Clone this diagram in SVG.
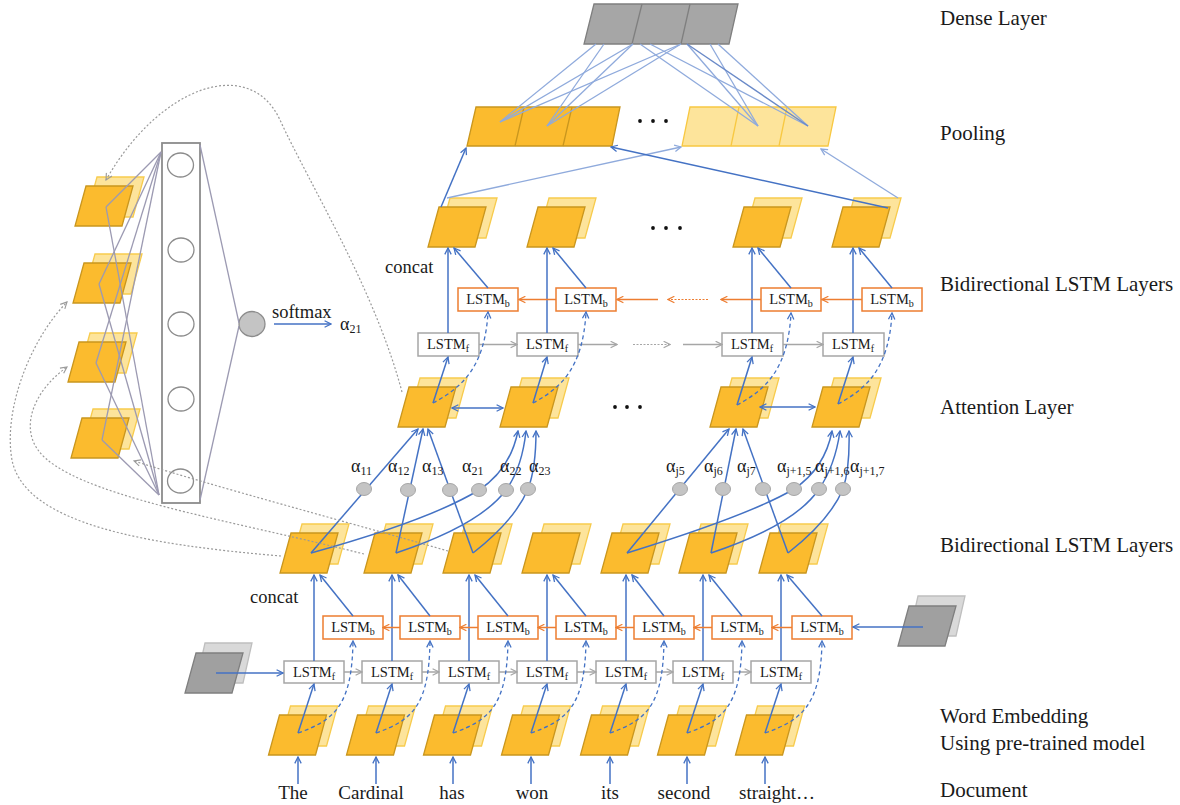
<svg xmlns="http://www.w3.org/2000/svg" width="1180" height="805" viewBox="0 0 1180 805">
<style>
.t{font-family:"Liberation Serif","Times New Roman",serif;fill:#1a1a1a}
.lbl{font-size:21px}
.lt{font-size:14.5px;text-anchor:middle}
.sub{font-size:10px}
.al{font-size:18px}
.als{font-size:12px}
.fo{fill:#FBBB2E;stroke:#C9961E;stroke-width:1.3}
.bo{fill:#FDE49B;stroke:#F7CB4D;stroke-width:1.3}
.fg{fill:#A0A0A0;stroke:#7F7F7F;stroke-width:1.3}
.bg{fill:#D9D9D9;stroke:#BFBFBF;stroke-width:1.3}
.bf{fill:#fff;stroke:#A6A6A6;stroke-width:1.5}
.bb{fill:#fff;stroke:#ED7D31;stroke-width:1.5}
.ln{fill:none;stroke:#4472C4;stroke-width:1.5}
.lnd{fill:none;stroke:#4472C4;stroke-width:1.3;stroke-dasharray:4 3}
.lt2{fill:none;stroke:#8FAADC;stroke-width:1.3}
.gr{fill:none;stroke:#A6A6A6;stroke-width:1.5}
.or{fill:none;stroke:#ED7D31;stroke-width:1.5}
.dot{fill:none;stroke:#9A9A9A;stroke-width:1.2;stroke-dasharray:2 2}
.pl{fill:none;stroke:#9C9AB2;stroke-width:1.3}
.ac{fill:#C4C4C4;stroke:#A6A6A6;stroke-width:1}
</style>
<defs>
<marker id="mb" viewBox="0 0 10 10" refX="9" refY="5" markerWidth="8" markerHeight="8" markerUnits="userSpaceOnUse" orient="auto-start-reverse"><path d="M1,1 L9,5 L1,9" fill="none" stroke="#4472C4" stroke-width="1.6"/></marker>
<marker id="ml" viewBox="0 0 10 10" refX="9" refY="5" markerWidth="8" markerHeight="8" markerUnits="userSpaceOnUse" orient="auto"><path d="M1,1 L9,5 L1,9" fill="none" stroke="#8FAADC" stroke-width="1.6"/></marker>
<marker id="mg" viewBox="0 0 10 10" refX="9" refY="5" markerWidth="8" markerHeight="8" markerUnits="userSpaceOnUse" orient="auto"><path d="M1,1 L9,5 L1,9" fill="none" stroke="#A6A6A6" stroke-width="1.6"/></marker>
<marker id="mo" viewBox="0 0 10 10" refX="9" refY="5" markerWidth="8" markerHeight="8" markerUnits="userSpaceOnUse" orient="auto"><path d="M1,1 L9,5 L1,9" fill="none" stroke="#ED7D31" stroke-width="1.6"/></marker>
<marker id="md" viewBox="0 0 10 10" refX="9" refY="5" markerWidth="8" markerHeight="8" markerUnits="userSpaceOnUse" orient="auto"><path d="M1,1 L9,5 L1,9" fill="none" stroke="#9A9A9A" stroke-width="1.4"/></marker>
<g id="ppo"><polygon class="bo" points="22,-9 69,-9 58,31 11,31"/><polygon class="fo" points="11,0 58,0 47,40 0,40"/></g>
<g id="ppg"><polygon class="bg" points="20,-10 67,-10 58,30 11,30"/><polygon class="fg" points="11,0 58,0 47,40 0,40"/></g>
</defs>
<rect width="1180" height="805" fill="#fff"/>

<!-- right labels -->
<g id="labels">
<text class="t lbl" x="940" y="25">Dense Layer</text>
<text class="t lbl" x="940" y="140">Pooling</text>
<text class="t lbl" x="940" y="291">Bidirectional LSTM Layers</text>
<text class="t lbl" x="940" y="414">Attention Layer</text>
<text class="t lbl" x="940" y="552">Bidirectional LSTM Layers</text>
<text class="t lbl" x="940" y="723">Word Embedding</text>
<text class="t lbl" x="940" y="750">Using pre-trained model</text>
<text class="t lbl" x="940" y="797">Document</text>
</g>

<!-- dense & pooling -->
<g id="dense">
<polygon points="594,4 738,4 729,44 584,44" fill="#A6A6A6" stroke="#7F7F7F" stroke-width="1.3"/>
<line x1="642" y1="4" x2="632" y2="44" stroke="#7F7F7F" stroke-width="1.3"/>
<line x1="690" y1="4" x2="681" y2="44" stroke="#7F7F7F" stroke-width="1.3"/>
</g>
<g id="pool-left">
<polygon class="fo" points="476,107 620,107 612,146 467,146"/>
<line x1="524" y1="107" x2="515" y2="146" stroke="#C9961E" stroke-width="1.3"/>
<line x1="572" y1="107" x2="563" y2="146" stroke="#C9961E" stroke-width="1.3"/>
</g>
<g id="pool-right">
<polygon points="690,107 836,107 828,146 682,146" fill="#FDE49B" stroke="#F8C842" stroke-width="1.3"/>
<line x1="739" y1="107" x2="731" y2="146" stroke="#F8C842" stroke-width="1.3"/>
<line x1="787" y1="107" x2="779" y2="146" stroke="#F8C842" stroke-width="1.3"/>
</g>
<g id="ellipses" fill="#111">
<circle cx="640" cy="121" r="1.9"/><circle cx="653" cy="121" r="1.9"/><circle cx="666" cy="121" r="1.9"/>
<circle cx="653" cy="228" r="1.9"/><circle cx="666" cy="228" r="1.9"/><circle cx="680" cy="228" r="1.9"/>
<circle cx="615" cy="407" r="1.9"/><circle cx="627" cy="407" r="1.9"/><circle cx="640" cy="407" r="1.9"/>
</g>

<!-- upper concat nodes -->
<g id="uc1"><use href="#ppo" x="428" y="207"/></g>
<g id="uc2"><use href="#ppo" x="527" y="207"/></g>
<g id="uc3"><use href="#ppo" x="733" y="207"/></g>
<g id="uc4"><use href="#ppo" x="832" y="207"/></g>
<text class="t" x="385" y="273" font-size="18.5">concat</text>

<!-- upper LSTM boxes -->
<g id="ub1"><rect class="bb" x="458" y="288" width="60" height="23"/><text class="t lt" x="488" y="304">LSTM<tspan class="sub" dy="3">b</tspan></text></g>
<g id="ub2"><rect class="bb" x="556" y="288" width="60" height="23"/><text class="t lt" x="586" y="304">LSTM<tspan class="sub" dy="3">b</tspan></text></g>
<g id="ub3"><rect class="bb" x="761" y="288" width="60" height="23"/><text class="t lt" x="791" y="304">LSTM<tspan class="sub" dy="3">b</tspan></text></g>
<g id="ub4"><rect class="bb" x="862" y="288" width="60" height="23"/><text class="t lt" x="892" y="304">LSTM<tspan class="sub" dy="3">b</tspan></text></g>
<g id="uf1"><rect class="bf" x="418" y="333" width="61" height="23"/><text class="t lt" x="448" y="349">LSTM<tspan class="sub" dy="3">f</tspan></text></g>
<g id="uf2"><rect class="bf" x="517" y="333" width="61" height="23"/><text class="t lt" x="547" y="349">LSTM<tspan class="sub" dy="3">f</tspan></text></g>
<g id="uf3"><rect class="bf" x="722" y="333" width="61" height="23"/><text class="t lt" x="752" y="349">LSTM<tspan class="sub" dy="3">f</tspan></text></g>
<g id="uf4"><rect class="bf" x="823" y="333" width="61" height="23"/><text class="t lt" x="853" y="349">LSTM<tspan class="sub" dy="3">f</tspan></text></g>

<!-- attention nodes -->
<g id="att1"><use href="#ppo" x="398" y="387"/></g>
<g id="att2"><use href="#ppo" x="500" y="387"/></g>
<g id="att3"><use href="#ppo" x="710" y="387"/></g>
<g id="att4"><use href="#ppo" x="812" y="387"/></g>

<!-- lower concat nodes -->
<g id="lc1"><use href="#ppo" x="280" y="533"/></g>
<g id="lc2"><use href="#ppo" x="364" y="533"/></g>
<g id="lc3"><use href="#ppo" x="443" y="533"/></g>
<g id="lc4"><use href="#ppo" x="522" y="533"/></g>
<g id="lc5"><use href="#ppo" x="601" y="533"/></g>
<g id="lc6"><use href="#ppo" x="679" y="533"/></g>
<g id="lc7"><use href="#ppo" x="759" y="533"/></g>
<text class="t" x="250" y="603" font-size="18.5">concat</text>

<!-- lower LSTM boxes -->
<g id="lb1"><rect class="bb" x="323" y="616" width="60" height="23"/><text class="t lt" x="353" y="632">LSTM<tspan class="sub" dy="3">b</tspan></text></g>
<g id="lb2"><rect class="bb" x="400" y="616" width="60" height="23"/><text class="t lt" x="430" y="632">LSTM<tspan class="sub" dy="3">b</tspan></text></g>
<g id="lb3"><rect class="bb" x="478" y="616" width="60" height="23"/><text class="t lt" x="508" y="632">LSTM<tspan class="sub" dy="3">b</tspan></text></g>
<g id="lb4"><rect class="bb" x="556" y="616" width="60" height="23"/><text class="t lt" x="586" y="632">LSTM<tspan class="sub" dy="3">b</tspan></text></g>
<g id="lb5"><rect class="bb" x="634" y="616" width="60" height="23"/><text class="t lt" x="664" y="632">LSTM<tspan class="sub" dy="3">b</tspan></text></g>
<g id="lb6"><rect class="bb" x="712" y="616" width="60" height="23"/><text class="t lt" x="742" y="632">LSTM<tspan class="sub" dy="3">b</tspan></text></g>
<g id="lb7"><rect class="bb" x="792" y="616" width="60" height="23"/><text class="t lt" x="822" y="632">LSTM<tspan class="sub" dy="3">b</tspan></text></g>
<g id="lf1"><rect class="bf" x="284" y="661" width="60" height="22"/><text class="t lt" x="314" y="677">LSTM<tspan class="sub" dy="3">f</tspan></text></g>
<g id="lf2"><rect class="bf" x="362" y="661" width="60" height="22"/><text class="t lt" x="392" y="677">LSTM<tspan class="sub" dy="3">f</tspan></text></g>
<g id="lf3"><rect class="bf" x="439" y="661" width="60" height="22"/><text class="t lt" x="469" y="677">LSTM<tspan class="sub" dy="3">f</tspan></text></g>
<g id="lf4"><rect class="bf" x="517" y="661" width="60" height="22"/><text class="t lt" x="547" y="677">LSTM<tspan class="sub" dy="3">f</tspan></text></g>
<g id="lf5"><rect class="bf" x="596" y="661" width="60" height="22"/><text class="t lt" x="626" y="677">LSTM<tspan class="sub" dy="3">f</tspan></text></g>
<g id="lf6"><rect class="bf" x="673" y="661" width="60" height="22"/><text class="t lt" x="703" y="677">LSTM<tspan class="sub" dy="3">f</tspan></text></g>
<g id="lf7"><rect class="bf" x="751" y="661" width="60" height="22"/><text class="t lt" x="781" y="677">LSTM<tspan class="sub" dy="3">f</tspan></text></g>

<!-- inputs -->
<g id="in-left"><use href="#ppg" x="185" y="653"/></g>
<g id="in-right"><use href="#ppg" x="898" y="606"/></g>

<!-- embeddings -->
<g id="e1"><use href="#ppo" x="268.5" y="715"/></g>
<g id="e2"><use href="#ppo" x="346.5" y="715"/></g>
<g id="e3"><use href="#ppo" x="423.5" y="715"/></g>
<g id="e4"><use href="#ppo" x="501.5" y="715"/></g>
<g id="e5"><use href="#ppo" x="580.5" y="715"/></g>
<g id="e6"><use href="#ppo" x="657.5" y="715"/></g>
<g id="e7"><use href="#ppo" x="735.5" y="715"/></g>

<!-- words -->
<g id="words" font-size="19" text-anchor="middle">
<text class="t" x="293" y="799">The</text>
<text class="t" x="371" y="799">Cardinal</text>
<text class="t" x="452" y="799">has</text>
<text class="t" x="532" y="799">won</text>
<text class="t" x="610" y="799">its</text>
<text class="t" x="684" y="799">second</text>
<text class="t" x="777" y="799">straight…</text>
</g>

<!-- left attention panel -->
<g id="p1"><use href="#ppo" x="75" y="186"/></g>
<g id="p2"><use href="#ppo" x="73" y="263"/></g>
<g id="p3"><use href="#ppo" x="68" y="342"/></g>
<g id="p4"><use href="#ppo" x="71" y="418"/></g>
<g id="panel-rect">
<rect x="162" y="143" width="38" height="360" fill="none" stroke="#8C8C8C" stroke-width="1.8"/>
<ellipse cx="180.5" cy="165" rx="13" ry="12" fill="#fff" stroke="#8C8C8C" stroke-width="1.3"/>
<ellipse cx="181" cy="250" rx="13" ry="12" fill="#fff" stroke="#8C8C8C" stroke-width="1.3"/>
<ellipse cx="181" cy="324" rx="13" ry="12" fill="#fff" stroke="#8C8C8C" stroke-width="1.3"/>
<ellipse cx="181" cy="399" rx="13" ry="12" fill="#fff" stroke="#8C8C8C" stroke-width="1.3"/>
<ellipse cx="180.5" cy="481" rx="13" ry="12" fill="#fff" stroke="#8C8C8C" stroke-width="1.3"/>
</g>
<g id="softmax-node">
<ellipse cx="252" cy="324" rx="13" ry="12.5" fill="#C4C4C4" stroke="#8C8C8C" stroke-width="1.3"/>
<text class="t" x="272" y="318" font-size="18.5">softmax</text>
<text class="t al" x="340" y="330">α<tspan class="als" dy="3">21</tspan></text>
</g>

<!-- connectors -->
<g id="connectors">
<g class="lt2">
<line x1="596" y1="44" x2="500" y2="122"/>
<line x1="604" y1="44" x2="547" y2="126"/>
<line x1="633" y1="44" x2="500" y2="122"/>
<line x1="633" y1="44" x2="547" y2="126"/>
<line x1="640" y1="44" x2="758" y2="126"/>
<line x1="650" y1="44" x2="808" y2="126"/>
<line x1="681" y1="44" x2="500" y2="122"/>
<line x1="681" y1="44" x2="547" y2="126"/>
<line x1="687" y1="44" x2="758" y2="126"/>
<line x1="710" y1="44" x2="758" y2="126"/>
<line x1="718" y1="44" x2="808" y2="126"/>
</g>
<line x1="687" y1="44" x2="808" y2="126" stroke="#6A8AC8" stroke-width="1.4"/>
<line class="ln" x1="441" y1="207" x2="466" y2="148" marker-end="url(#mb)"/>
<line class="lt2" x1="447" y1="198" x2="681" y2="147" marker-end="url(#ml)"/>
<line class="ln" x1="888" y1="208" x2="611" y2="147" marker-end="url(#mb)"/>
<line class="lt2" x1="898" y1="198" x2="821" y2="149" marker-end="url(#ml)"/>

<g class="ln">
<line x1="448" y1="333" x2="448" y2="248" marker-end="url(#mb)"/>
<line x1="547" y1="333" x2="547" y2="248" marker-end="url(#mb)"/>
<line x1="752" y1="333" x2="752" y2="248" marker-end="url(#mb)"/>
<line x1="853" y1="333" x2="853" y2="248" marker-end="url(#mb)"/>
<line x1="488" y1="288" x2="454" y2="248" marker-end="url(#mb)"/>
<line x1="586" y1="288" x2="553" y2="248" marker-end="url(#mb)"/>
<line x1="791" y1="288" x2="758" y2="248" marker-end="url(#mb)"/>
<line x1="892" y1="288" x2="859" y2="248" marker-end="url(#mb)"/>
</g>
<g class="gr">
<line x1="479" y1="344.5" x2="517" y2="344.5" marker-end="url(#mg)"/>
<line x1="578" y1="344.5" x2="617" y2="344.5" marker-end="url(#mg)"/>
<line x1="633" y1="344.5" x2="670" y2="344.5" stroke-dasharray="2 1.5" stroke-width="1.2" marker-end="url(#mg)"/>
<line x1="683" y1="344.5" x2="722" y2="344.5" marker-end="url(#mg)"/>
<line x1="783" y1="344.5" x2="823" y2="344.5" marker-end="url(#mg)"/>
</g>
<g class="or">
<line x1="556" y1="299.5" x2="519" y2="299.5" marker-end="url(#mo)"/>
<line x1="658" y1="299.5" x2="617" y2="299.5" marker-end="url(#mo)"/>
<line x1="708" y1="299.5" x2="668" y2="299.5" stroke-dasharray="2 1.5" stroke-width="1.2" marker-end="url(#mo)"/>
<line x1="761" y1="299.5" x2="721" y2="299.5" marker-end="url(#mo)"/>
<line x1="862" y1="299.5" x2="822" y2="299.5" marker-end="url(#mo)"/>
</g>
<g class="ln">
<line x1="433" y1="403" x2="448" y2="357" marker-end="url(#mb)"/>
<line x1="533" y1="403" x2="547" y2="357" marker-end="url(#mb)"/>
<line x1="737" y1="405" x2="752" y2="357" marker-end="url(#mb)"/>
<line x1="838" y1="404" x2="853" y2="357" marker-end="url(#mb)"/>
<line x1="452" y1="408" x2="503" y2="408" marker-start="url(#mb)" marker-end="url(#mb)"/>
<line x1="760" y1="407" x2="815" y2="407" marker-start="url(#mb)" marker-end="url(#mb)"/>
</g>
<g class="lnd">
<path d="M433,403 C461,388 485,368 488,312" marker-end="url(#mb)"/>
<path d="M533,403 C561,388 583,368 586,312" marker-end="url(#mb)"/>
<path d="M737,405 C765,390 788,370 791,313" marker-end="url(#mb)"/>
<path d="M838,404 C866,389 889,369 892,313" marker-end="url(#mb)"/>
</g>
<g class="ln">
<path d="M311,553 L418,429" marker-end="url(#mb)"/>
<path d="M396,553 L423,429" marker-end="url(#mb)"/>
<path d="M473,553 L428,429" marker-end="url(#mb)"/>
<path d="M311,553 Q430,520 479,490 Q510,470 518,431" marker-end="url(#mb)"/>
<path d="M396,553 Q480,525 506,490 Q522,468 526,431" marker-end="url(#mb)"/>
<path d="M473,553 Q515,520 528,489 Q536,468 536,431" marker-end="url(#mb)"/>
<path d="M627,553 L729,429" marker-end="url(#mb)"/>
<path d="M711,553 L736,429" marker-end="url(#mb)"/>
<path d="M788,553 L743,429" marker-end="url(#mb)"/>
<path d="M627,553 Q750,515 794,489 Q825,468 832,431" marker-end="url(#mb)"/>
<path d="M711,553 Q795,525 819,489 Q835,466 840,431" marker-end="url(#mb)"/>
<path d="M788,553 Q830,520 843,489 Q850,468 849,431" marker-end="url(#mb)"/>
</g>
<g class="ln">
<line x1="314" y1="661" x2="314" y2="575" marker-end="url(#mb)"/>
<line x1="392" y1="661" x2="392" y2="575" marker-end="url(#mb)"/>
<line x1="469" y1="661" x2="469" y2="575" marker-end="url(#mb)"/>
<line x1="547" y1="661" x2="547" y2="575" marker-end="url(#mb)"/>
<line x1="626" y1="661" x2="626" y2="575" marker-end="url(#mb)"/>
<line x1="703" y1="661" x2="703" y2="575" marker-end="url(#mb)"/>
<line x1="781" y1="661" x2="781" y2="575" marker-end="url(#mb)"/>
<line x1="353" y1="616" x2="320" y2="575" marker-end="url(#mb)"/>
<line x1="430" y1="616" x2="398" y2="575" marker-end="url(#mb)"/>
<line x1="508" y1="616" x2="475" y2="575" marker-end="url(#mb)"/>
<line x1="586" y1="616" x2="553" y2="575" marker-end="url(#mb)"/>
<line x1="664" y1="616" x2="632" y2="575" marker-end="url(#mb)"/>
<line x1="742" y1="616" x2="709" y2="575" marker-end="url(#mb)"/>
<line x1="822" y1="616" x2="787" y2="575" marker-end="url(#mb)"/>
</g>
<g class="gr">
<line x1="344" y1="672" x2="362" y2="672" marker-end="url(#mg)"/>
<line x1="422" y1="672" x2="439" y2="672" marker-end="url(#mg)"/>
<line x1="499" y1="672" x2="517" y2="672" marker-end="url(#mg)"/>
<line x1="577" y1="672" x2="596" y2="672" marker-end="url(#mg)"/>
<line x1="656" y1="672" x2="673" y2="672" marker-end="url(#mg)"/>
<line x1="733" y1="672" x2="751" y2="672" marker-end="url(#mg)"/>
</g>
<g class="or">
<line x1="400" y1="627.5" x2="383" y2="627.5" marker-end="url(#mo)"/>
<line x1="478" y1="627.5" x2="460" y2="627.5" marker-end="url(#mo)"/>
<line x1="556" y1="627.5" x2="538" y2="627.5" marker-end="url(#mo)"/>
<line x1="634" y1="627.5" x2="616" y2="627.5" marker-end="url(#mo)"/>
<line x1="712" y1="627.5" x2="694" y2="627.5" marker-end="url(#mo)"/>
<line x1="792" y1="627.5" x2="772" y2="627.5" marker-end="url(#mo)"/>
</g>
<line class="ln" x1="216" y1="673" x2="283" y2="673" marker-end="url(#mb)"/>
<line class="ln" x1="923" y1="627" x2="853" y2="627" marker-end="url(#mb)"/>
<g class="ln">
<line x1="298" y1="733" x2="314" y2="684" marker-end="url(#mb)"/>
<line x1="376" y1="733" x2="392" y2="684" marker-end="url(#mb)"/>
<line x1="453" y1="733" x2="469" y2="684" marker-end="url(#mb)"/>
<line x1="531" y1="733" x2="547" y2="684" marker-end="url(#mb)"/>
<line x1="610" y1="733" x2="626" y2="684" marker-end="url(#mb)"/>
<line x1="687" y1="733" x2="703" y2="684" marker-end="url(#mb)"/>
<line x1="765" y1="733" x2="781" y2="684" marker-end="url(#mb)"/>
<line x1="298" y1="784" x2="298" y2="757" marker-end="url(#mb)"/>
<line x1="376" y1="784" x2="376" y2="757" marker-end="url(#mb)"/>
<line x1="453" y1="784" x2="453" y2="757" marker-end="url(#mb)"/>
<line x1="531" y1="784" x2="531" y2="757" marker-end="url(#mb)"/>
<line x1="610" y1="784" x2="610" y2="757" marker-end="url(#mb)"/>
<line x1="687" y1="784" x2="687" y2="757" marker-end="url(#mb)"/>
<line x1="765" y1="784" x2="765" y2="757" marker-end="url(#mb)"/>
</g>
<g class="lnd">
<path d="M298,733 C335,720 352,705 353,641" marker-end="url(#mb)"/>
<path d="M376,733 C413,720 429,705 430,641" marker-end="url(#mb)"/>
<path d="M453,733 C490,720 507,705 508,641" marker-end="url(#mb)"/>
<path d="M531,733 C568,720 585,705 586,641" marker-end="url(#mb)"/>
<path d="M610,733 C647,720 663,705 664,641" marker-end="url(#mb)"/>
<path d="M687,733 C724,720 741,705 742,641" marker-end="url(#mb)"/>
<path d="M765,733 C802,720 821,705 822,641" marker-end="url(#mb)"/>
</g>
<g class="pl">
<line x1="161" y1="152" x2="106" y2="207"/>
<line x1="161" y1="152" x2="99" y2="284"/>
<line x1="161" y1="152" x2="96" y2="363"/>
<line x1="161" y1="152" x2="102" y2="440"/>
<line x1="159" y1="495" x2="106" y2="207"/>
<line x1="159" y1="495" x2="99" y2="284"/>
<line x1="159" y1="495" x2="96" y2="363"/>
<line x1="159" y1="495" x2="102" y2="440"/>
<line x1="200" y1="145" x2="239" y2="323"/>
<line x1="200" y1="500" x2="239" y2="326"/>
</g>
<line class="ln" x1="274" y1="324" x2="331" y2="324" marker-end="url(#mb)"/>
<g class="dot">
<path d="M402,392 C375,290 310,185 280,120 C250,55 160,85 106,180" marker-end="url(#md)"/>
<path d="M281,556 C150,545 25,525 12,460 C3,410 30,340 67,302" marker-end="url(#md)"/>
<path d="M364,554 C230,520 70,495 38,450 C20,425 35,390 67,367" marker-end="url(#md)"/>
<path d="M448,551 C340,520 220,488 134,461" marker-end="url(#md)"/>
</g>
</g>

<!-- alpha weight nodes -->
<g id="alphas">
<ellipse class="ac" cx="364" cy="489" rx="7.5" ry="6.5"/>
<ellipse class="ac" cx="408" cy="490" rx="7.5" ry="6.5"/>
<ellipse class="ac" cx="450" cy="490" rx="7.5" ry="6.5"/>
<ellipse class="ac" cx="479" cy="490" rx="7.5" ry="6.5"/>
<ellipse class="ac" cx="506" cy="490" rx="7.5" ry="6.5"/>
<ellipse class="ac" cx="528" cy="489" rx="7.5" ry="6.5"/>
<ellipse class="ac" cx="680" cy="489" rx="7.5" ry="6.5"/>
<ellipse class="ac" cx="723" cy="489" rx="7.5" ry="6.5"/>
<ellipse class="ac" cx="763" cy="489" rx="7.5" ry="6.5"/>
<ellipse class="ac" cx="794" cy="489" rx="7.5" ry="6.5"/>
<ellipse class="ac" cx="819" cy="489" rx="7.5" ry="6.5"/>
<ellipse class="ac" cx="843" cy="489" rx="7.5" ry="6.5"/>
<text class="t al" x="351" y="472">α<tspan class="als" dy="3">11</tspan></text>
<text class="t al" x="388" y="472">α<tspan class="als" dy="3">12</tspan></text>
<text class="t al" x="422" y="472">α<tspan class="als" dy="3">13</tspan></text>
<text class="t al" x="462" y="472">α<tspan class="als" dy="3">21</tspan></text>
<text class="t al" x="500" y="472">α<tspan class="als" dy="3">22</tspan></text>
<text class="t al" x="529" y="472">α<tspan class="als" dy="3">23</tspan></text>
<text class="t al" x="666" y="472">α<tspan class="als" dy="3">j5</tspan></text>
<text class="t al" x="704" y="472">α<tspan class="als" dy="3">j6</tspan></text>
<text class="t al" x="737" y="472">α<tspan class="als" dy="3">j7</tspan></text>
<text class="t al" x="777" y="472">α<tspan class="als" dy="3">j+1,5</tspan></text>
<text class="t al" x="815" y="472">α<tspan class="als" dy="3">j+1,6</tspan></text>
<text class="t al" x="850" y="472">α<tspan class="als" dy="3">j+1,7</tspan></text>
</g>
</svg>
